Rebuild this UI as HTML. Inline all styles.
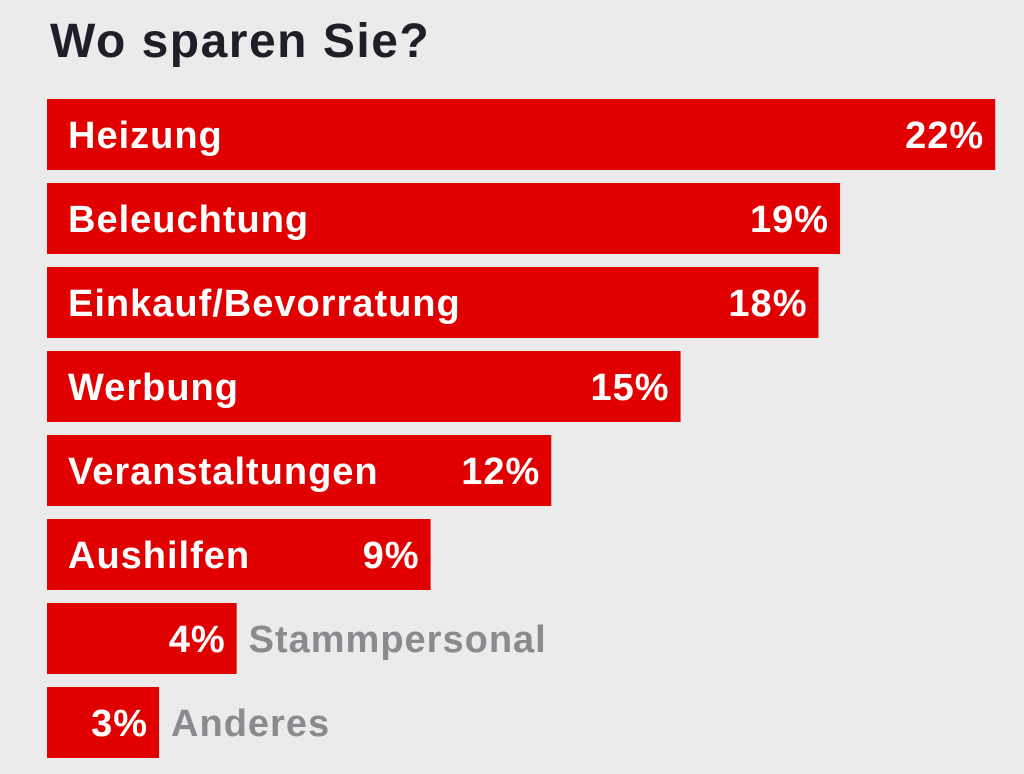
<!DOCTYPE html>
<html><head><meta charset="utf-8">
<style>
html,body{margin:0;padding:0;background:#ebebeb;}
body{width:1024px;height:774px;overflow:hidden;position:relative;font-family:"Liberation Sans",sans-serif;}
#title{position:absolute;left:50px;top:14px;font-size:48px;font-weight:bold;color:#1e1f29;letter-spacing:1.5px;}
svg{position:absolute;left:0;top:0;}
</style></head>
<body>
<div id="title">Wo sparen Sie?</div>
<svg id="chart" width="1024" height="774"></svg>
<script>
const categories = ["Heizung","Beleuchtung","Einkauf/Bevorratung","Werbung","Veranstaltungen","Aushilfen","Stammpersonal","Anderes"];
const values = [22, 18.4, 17.9, 14.7, 11.7, 8.9, 4.4, 2.6];
const valueLabels = ["22%","19%","18%","15%","12%","9%","4%","3%"];
const insideLabel = [true,true,true,true,true,true,false,false];

const NS = "http://www.w3.org/2000/svg";
const svg = document.getElementById("chart");
const x0 = 47, pxPerUnit = 43.1;
const xScale = v => x0 + v * pxPerUnit;
const yTop = i => 99 + i * 84;
const barH = 71;

categories.forEach((c, i) => {
  const xEnd = xScale(values[i]);
  const r = document.createElementNS(NS, "rect");
  
  
  r.setAttribute("x", x0); r.setAttribute("y", yTop(i));
  r.setAttribute("width", xEnd - x0); r.setAttribute("height", barH);
  r.setAttribute("fill", "#e10000");
  svg.appendChild(r);

  const baseY = yTop(i) + 49;
  const v = document.createElementNS(NS, "text");
  
  
  v.setAttribute("x", xEnd - 11); v.setAttribute("y", baseY);
  v.setAttribute("text-anchor", "end");
  v.setAttribute("fill", "#ffffff");
  v.setAttribute("font-size", "38"); v.setAttribute("font-weight", "bold");
  v.setAttribute("letter-spacing", "1");
  v.textContent = valueLabels[i];
  svg.appendChild(v);

  const t = document.createElementNS(NS, "text");
  
  
  t.setAttribute("y", baseY);
  t.setAttribute("font-size", "38"); t.setAttribute("font-weight", "bold");
  t.setAttribute("letter-spacing", "1");
  if (insideLabel[i]) { t.setAttribute("x", 68); t.setAttribute("fill", "#ffffff"); }
  else { t.setAttribute("x", xEnd + 12); t.setAttribute("fill", "#8a8a8f"); }
  t.textContent = c;
  svg.appendChild(t);
});
</script>
</body></html>
